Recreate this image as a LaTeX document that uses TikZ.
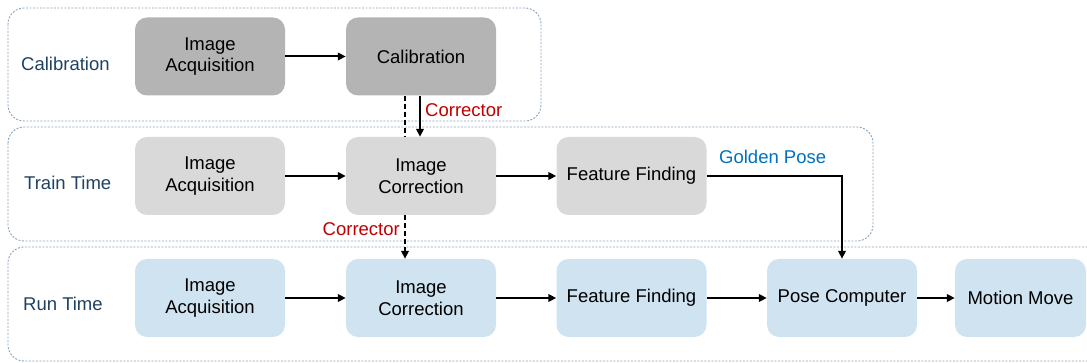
\documentclass[tikz,border=0pt]{standalone}
\usepackage{fontspec}
\setmainfont{Liberation Sans}
\usetikzlibrary{arrows.meta,positioning}

\definecolor{calgray}{HTML}{B4B4B4}
\definecolor{traingray}{HTML}{D9D9D9}
\definecolor{runblue}{HTML}{CFE3F1}
\definecolor{panelline}{HTML}{8AA3BA}
\definecolor{lanetext}{HTML}{1F4260}
\definecolor{corrred}{HTML}{C00000}
\definecolor{poseblue}{HTML}{0070C0}

\tikzset{
  panel/.style={draw=panelline, line width=0.9pt, dash pattern=on 2pt off 1.5pt, rounded corners=16pt},
  stagebox/.style={rounded corners=12pt, draw=none, minimum width=150pt, minimum height=78pt,
    align=center, font=\fontsize{18.5}{21.5}\selectfont, text=black, inner sep=0pt},
  calbox/.style={stagebox, fill=calgray},
  trainbox/.style={stagebox, fill=traingray},
  runbox/.style={stagebox, fill=runblue},
  lanelabel/.style={anchor=west, text=lanetext, font=\fontsize{18.5}{21.5}\selectfont, inner sep=0pt},
  flow/.style={-{Triangle[length=8pt,width=7.5pt]}, line width=2pt, black},
  dashflow/.style={line width=2pt, black, dash pattern=on 5pt off 3pt},
  tag/.style={font=\fontsize{18.5}{21.5}\selectfont, inner sep=0pt}
}

\begin{document}
\begin{tikzpicture}[x=1pt, y=-1pt]
\useasboundingbox (0,0) rectangle (1087,363);
\clip (0,0) rectangle (1087,363);

% lanes
\draw[panel] (8,8) rectangle (541,121);
\draw[panel] (8,127) rectangle (873,241);
\draw[panel] (8,247) rectangle (1110,361);

\node[lanelabel] (lcal) at (21,64) {Calibration};
\node[lanelabel] (ltrain) at (24,183) {Train Time};
\node[lanelabel] (lrun) at (23,304) {Run Time};

% calibration lane
\node[calbox] (cacq) at (210,56.5) {Image\\Acquisition};
\node[calbox] (ccal) at (421,56.5) {Calibration};

% train lane
\node[trainbox] (tacq) at (210,176) {Image\\Acquisition};
\node[trainbox] (tcor) at (421,176) {Image\\Correction};
\node[trainbox] (tfeat) at (631.5,176) {Feature Finding};

% run lane
\node[runbox] (racq) at (210,298) {Image\\Acquisition};
\node[runbox] (rcor) at (421,298) {Image\\Correction};
\node[runbox] (rfeat) at (631.5,298) {Feature Finding};
\node[runbox] (rpose) at (842,298) {Pose Computer};
\node[runbox, minimum width=131pt] (rmove) at (1020.5,298) {Motion Move};

% flows
\draw[flow] (cacq) -- (ccal);
\draw[flow] (tacq) -- (tcor);
\draw[flow] (tcor) -- (tfeat);
\draw[flow] (racq) -- (rcor);
\draw[flow] (rcor) -- (rfeat);
\draw[flow] (rfeat) -- (rpose);
\draw[flow] (rpose) -- (rmove);

% corrector from calibration
\draw[flow] (ccal.south -| 420,0) -- (tcor.north -| 420,0);
\draw[dashflow] (ccal.south -| 405,0) -- (tcor.north -| 405,0);
\node[tag, text=corrred, anchor=west] (corr1) at (425,110) {Corrector};

% corrector into run time
\draw[dashflow, -{Triangle[length=8pt,width=7.5pt]}] (tcor.south -| 405,0) -- (rcor.north -| 405,0);
\node[tag, text=corrred, anchor=east] (corr2) at (400,229) {Corrector};

% golden pose
\draw[flow] (tfeat.east) -| (rpose.north);
\node[tag, text=poseblue, anchor=west] (gold) at (719,157) {Golden Pose};
\end{tikzpicture}
\end{document}
